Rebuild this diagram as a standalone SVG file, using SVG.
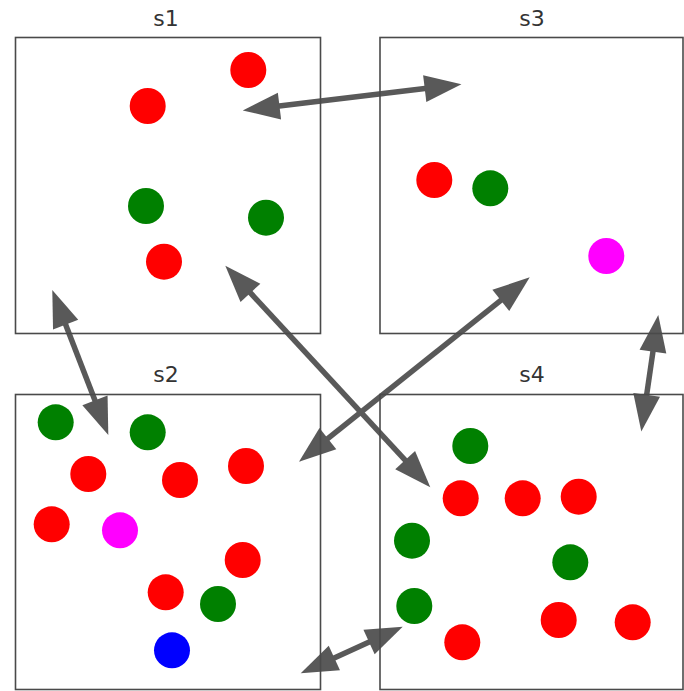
<svg xmlns="http://www.w3.org/2000/svg" width="684" height="691" viewBox="0 0 684 691">
<style>
.frame{fill:none;stroke:#4a4a4a;stroke-width:1.6}
.lbl{font-family:"DejaVu Sans",sans-serif;font-size:22px;fill:#333;text-anchor:middle}
.conn{stroke:#595959;stroke-width:5.5;fill:none;marker-start:url(#ah);marker-end:url(#ah)}
.r{fill:#ff0000}.g{fill:#008000}.m{fill:#ff00ff}.b{fill:#0000ff}
</style>
<defs>
<marker id="ah" markerUnits="userSpaceOnUse" markerWidth="37" markerHeight="27" refX="17" refY="13.5" orient="auto-start-reverse" overflow="visible">
<path d="M0,0 L37,13.5 L0,27 z" fill="#595959"/>
</marker>
</defs>
<rect width="684" height="691" fill="#fff"/>
<g id="connectors">
<line class="conn" x1="262.6" y1="108.1" x2="441.6" y2="86.6"/>
<line class="conn" x1="59.5" y1="308.7" x2="101.1" y2="416.3"/>
<line class="conn" x1="238.9" y1="280.4" x2="416.7" y2="472.6"/>
<line class="conn" x1="514.1" y1="289.8" x2="314.6" y2="449.2"/>
<line class="conn" x1="655.4" y1="334.8" x2="644.2" y2="411.7"/>
<line class="conn" x1="318.9" y1="665.0" x2="384.5" y2="635.0"/>
</g>
<g id="s1">
<rect class="frame" x="15.5" y="37.5" width="305" height="296"/>
<text class="lbl" x="166" y="26">s1</text>
<circle class="r" cx="248.3" cy="70" r="18"/>
<circle class="r" cx="147.7" cy="106" r="18"/>
<circle class="g" cx="146" cy="206" r="18"/>
<circle class="g" cx="266" cy="217.7" r="18"/>
<circle class="r" cx="164" cy="261.7" r="18"/>
</g>
<g id="s3">
<rect class="frame" x="380" y="37.5" width="303" height="296"/>
<text class="lbl" x="532" y="26">s3</text>
<circle class="r" cx="434.3" cy="180" r="18"/>
<circle class="g" cx="490.3" cy="188.3" r="18"/>
<circle class="m" cx="606.3" cy="256" r="18"/>
</g>
<g id="s2">
<rect class="frame" x="15.5" y="394.5" width="305" height="295"/>
<text class="lbl" x="166" y="382">s2</text>
<circle class="g" cx="55.7" cy="422.3" r="18"/>
<circle class="g" cx="147.7" cy="432.3" r="18"/>
<circle class="r" cx="88.3" cy="474" r="18"/>
<circle class="r" cx="180" cy="480" r="18"/>
<circle class="r" cx="246" cy="466" r="18"/>
<circle class="r" cx="51.7" cy="524.3" r="18"/>
<circle class="m" cx="120" cy="530.3" r="18"/>
<circle class="r" cx="242.7" cy="560" r="18"/>
<circle class="r" cx="165.7" cy="592.3" r="18"/>
<circle class="g" cx="218" cy="604" r="18"/>
<circle class="b" cx="172" cy="650.3" r="18"/>
</g>
<g id="s4">
<rect class="frame" x="380" y="394.5" width="303" height="295"/>
<text class="lbl" x="532" y="382">s4</text>
<circle class="g" cx="470.3" cy="446" r="18"/>
<circle class="r" cx="460.7" cy="498.3" r="18"/>
<circle class="r" cx="522.7" cy="498.3" r="18"/>
<circle class="r" cx="578.7" cy="496.7" r="18"/>
<circle class="g" cx="412" cy="540.7" r="18"/>
<circle class="g" cx="570.3" cy="562.3" r="18"/>
<circle class="g" cx="414.3" cy="606" r="18"/>
<circle class="r" cx="558.7" cy="620" r="18"/>
<circle class="r" cx="632.7" cy="622.3" r="18"/>
<circle class="r" cx="462.3" cy="642.3" r="18"/>
</g>
</svg>
